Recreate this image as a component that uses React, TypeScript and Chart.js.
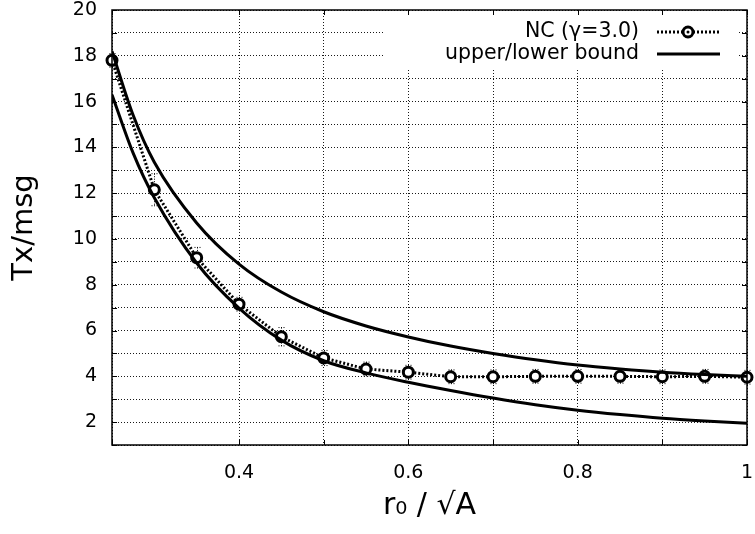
import { useEffect, useRef } from 'react';
import { Chart, registerables } from 'chart.js';

Chart.register(...registerables);

// ---- data ----
const ncX = [0.25, 0.3, 0.35, 0.4, 0.45, 0.5, 0.55, 0.6, 0.65, 0.7, 0.75, 0.8, 0.85, 0.9, 0.95, 1.0];
const ncY = [17.8, 12.15, 9.18, 7.15, 5.73, 4.8, 4.32, 4.18, 3.98, 3.98, 4.0, 4.0, 4.0, 3.98, 4.0, 3.96];
const ncErr = [0.3, 0.7, 0.45, 0.3, 0.4, 0.33, 0.3, 0.3, 0.3, 0.3, 0.3, 0.3, 0.3, 0.3, 0.3, 0.3];

const boundX = [0.25, 0.275, 0.3, 0.35, 0.4, 0.45, 0.5, 0.55, 0.6, 0.65, 0.7, 0.75, 0.8, 0.85, 0.9, 0.95, 1.0];
const upperY = [18.2, 15.4, 13.35, 10.7, 8.9, 7.68, 6.82, 6.2, 5.72, 5.32, 5.0, 4.72, 4.49, 4.32, 4.18, 4.08, 4.0];
const lowerY = [16.3, 13.75, 11.8, 8.95, 6.98, 5.58, 4.68, 4.15, 3.74, 3.38, 3.05, 2.76, 2.52, 2.33, 2.17, 2.05, 1.95];

const xMin = 0.25;
const xMax = 1.0;
const yMin = 1;
const yMax = 20;

const legendLabels = ['NC (\u03b3=3.0)', 'upper/lower bound'];
const xTitle = 'r\u2080 / \u221aA';
const yTitle = 'Tx/msg';

const FONT = '"DejaVu Sans", "Liberation Sans", sans-serif';

const pts = (xs: number[], ys: number[]) => xs.map((x, i) => ({ x, y: ys[i] }));

const decorPlugin = {
  id: 'decor',
  beforeDatasetsDraw(chart: any) {
    const { ctx, chartArea, scales } = chart;
    ctx.save();
    // legend background box
    ctx.fillStyle = '#fff';
    ctx.fillRect(383, chartArea.top + 1, 737 - 383, 68 - chartArea.top - 1);
    // error bars
    const xs = scales.x;
    const ys = scales.y;
    ctx.strokeStyle = '#000';
    ctx.lineWidth = 1;
    ctx.setLineDash([1, 1.5]);
    ncX.forEach((x, i) => {
      const px = Math.round(xs.getPixelForValue(x)) + 0.5;
      const p1 = ys.getPixelForValue(ncY[i] + ncErr[i]);
      const p2 = ys.getPixelForValue(ncY[i] - ncErr[i]);
      ctx.beginPath();
      ctx.moveTo(px, p1);
      ctx.lineTo(px, p2);
      ctx.moveTo(px - 3, p1);
      ctx.lineTo(px + 3, p1);
      ctx.moveTo(px - 3, p2);
      ctx.lineTo(px + 3, p2);
      ctx.stroke();
    });
    ctx.restore();
  },
  afterDraw(chart: any) {
    const { ctx, chartArea, scales } = chart;
    const { left, right, top, bottom } = chartArea;
    ctx.save();
    // border box
    ctx.strokeStyle = '#000';
    ctx.lineWidth = 1.5;
    ctx.setLineDash([]);
    ctx.strokeRect(left, top, right - left, bottom - top);
    // tick marks on all sides
    ctx.lineWidth = 1;
    const tl = 5;
    scales.x.ticks.forEach((t: any) => {
      const px = Math.round(scales.x.getPixelForValue(t.value)) + 0.5;
      ctx.beginPath();
      ctx.moveTo(px, bottom);
      ctx.lineTo(px, bottom - tl);
      ctx.moveTo(px, top);
      ctx.lineTo(px, top + tl);
      ctx.stroke();
    });
    scales.y.ticks.forEach((t: any) => {
      const py = Math.round(scales.y.getPixelForValue(t.value)) + 0.5;
      ctx.beginPath();
      ctx.moveTo(left, py);
      ctx.lineTo(left + tl, py);
      ctx.moveTo(right, py);
      ctx.lineTo(right - tl, py);
      ctx.stroke();
    });
    // legend
    ctx.fillStyle = '#000';
    ctx.font = `20.5px ${FONT}`;
    ctx.textAlign = 'right';
    ctx.textBaseline = 'middle';
    const rows = [32, 54];
    ctx.fillText(legendLabels[0], 639, rows[0]);
    ctx.fillText(legendLabels[1], 639, rows[1]);
    // NC sample
    ctx.lineWidth = 3;
    ctx.setLineDash([2, 2]);
    ctx.beginPath();
    ctx.moveTo(657, rows[0]);
    ctx.lineTo(720, rows[0]);
    ctx.stroke();
    ctx.setLineDash([]);
    ctx.beginPath();
    ctx.arc(688, rows[0], 5, 0, Math.PI * 2);
    ctx.fillStyle = '#fff';
    ctx.fill();
    ctx.lineWidth = 3;
    ctx.stroke();
    ctx.beginPath();
    ctx.arc(688, rows[0], 1.5, 0, Math.PI * 2);
    ctx.fillStyle = '#000';
    ctx.fill();
    // bound sample
    ctx.lineWidth = 3;
    ctx.beginPath();
    ctx.moveTo(657, rows[1]);
    ctx.lineTo(720, rows[1]);
    ctx.stroke();
    ctx.restore();
  },
};

export default function App() {
  const ref = useRef<HTMLCanvasElement | null>(null);
  useEffect(() => {
    if (!ref.current) return;
    const gridOpts = { color: 'rgba(0,0,0,0.9)', lineWidth: 1, drawTicks: false };
    const tickFont = { family: FONT, size: 19 };
    const chart = new Chart(ref.current, {
      type: 'line',
      data: {
        datasets: [
          {
            label: 'upper bound',
            data: pts(boundX, upperY),
            borderColor: '#000',
            borderWidth: 3,
            pointRadius: 0,
            cubicInterpolationMode: 'monotone',
            fill: false,
          },
          {
            label: 'lower bound',
            data: pts(boundX, lowerY),
            borderColor: '#000',
            borderWidth: 3,
            pointRadius: 0,
            cubicInterpolationMode: 'monotone',
            fill: false,
          },
          {
            label: legendLabels[0],
            data: pts(ncX, ncY),
            borderColor: '#000',
            borderWidth: 3,
            borderDash: [2, 2],
            tension: 0,
            pointRadius: 5,
            pointBorderWidth: 3,
            pointBackgroundColor: '#fff',
            pointBorderColor: '#000',
            clip: false,
            fill: false,
          },
          {
            label: 'NC centre',
            data: pts(ncX, ncY),
            showLine: false,
            pointRadius: 1.5,
            pointBorderWidth: 0,
            pointBackgroundColor: '#000',
            clip: false,
          },
        ],
      },
      options: {
        animation: false,
        responsive: false,
        devicePixelRatio: 1,
        layout: { padding: { left: 0, right: 2, top: 10, bottom: 0 } },
        plugins: { legend: { display: false }, tooltip: { enabled: false } },
        scales: {
          x: {
            type: 'linear',
            min: xMin,
            max: xMax,
            border: { display: false, dash: [1, 2] },
            grid: gridOpts,
            ticks: {
              stepSize: 0.1,
              autoSkip: false,
              maxRotation: 0,
              padding: 17,
              color: '#000',
              font: tickFont,
              callback: (v: any) => {
                const n = Math.round(Number(v) * 100);
                if (n % 20 !== 0) return '';
                return String(Number(Number(v).toFixed(1)));
              },
            },
            title: {
              display: true,
              text: xTitle,
              color: '#000',
              font: { family: FONT, size: 30, lineHeight: 1 },
              padding: { top: 0, bottom: 13 },
            },
            afterFit: (s: any) => {
              s.height = 89;
              s.paddingLeft = 0;
              s.paddingRight = 0;
            },
          },
          y: {
            type: 'linear',
            min: yMin,
            max: yMax,
            border: { display: false, dash: [1, 2] },
            grid: gridOpts,
            ticks: {
              stepSize: 1,
              autoSkip: false,
              padding: 15,
              color: '#000',
              font: tickFont,
              callback: (v: any) => (Number(v) % 2 === 0 ? String(v) : ''),
            },
            title: {
              display: true,
              text: yTitle,
              color: '#000',
              font: { family: FONT, size: 29, lineHeight: 1 },
              padding: { top: 10, bottom: 0 },
            },
            afterFit: (s: any) => {
              s.width = 112;
              s.paddingTop = 0;
              s.paddingBottom = 0;
            },
          },
        },
      },
      plugins: [decorPlugin],
    } as any);
    return () => chart.destroy();
  }, []);
  return (
    <div style={{ position: 'fixed', left: 0, top: 0, width: 755, height: 534, background: '#fff' }}>
      <canvas ref={ref} width={755} height={534} style={{ display: 'block' }} />
    </div>
  );
}
